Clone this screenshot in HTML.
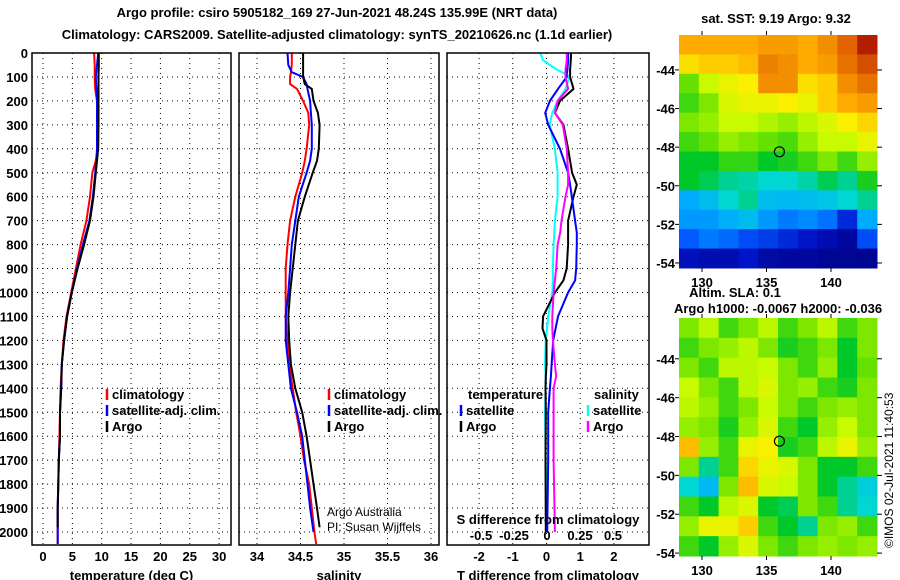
<!DOCTYPE html>
<html><head><meta charset="utf-8"><style>
html,body{margin:0;padding:0;background:#fff}
svg{display:block;font-family:"Liberation Sans",sans-serif}
.b{font-weight:bold;font-size:13px}
</style></head><body>
<svg id="s" width="900" height="580" viewBox="0 0 900 580" xmlns="http://www.w3.org/2000/svg">
<rect width="900" height="580" fill="#fff"/>
<text x="337" y="17" text-anchor="middle" class="b" font-size="14">Argo profile: csiro 5905182_169 27-Jun-2021 48.24S 135.99E (NRT data)</text>
<text x="337" y="39" text-anchor="middle" class="b" font-size="14">Climatology: CARS2009. Satellite-adjusted climatology: synTS_20210626.nc (1.1d earlier)</text>
<g id="g"></g>
</svg>
<script>
// ---- data ----
const depthTicks=[0,100,200,300,400,500,600,700,800,900,1000,1100,1200,1300,1400,1500,1600,1700,1800,1900,2000];
const tempTicks=[0,5,10,15,20,25,30];
const salTicks=[34,34.5,35,35.5,36];
const salTickLabels=["34","34.5","35","35.5","36"];
const tdTicks=[-2,-1,0,1,2];
const sdTicks=[-0.5,-0.25,0,0.25,0.5];
const sdTickLabels=["-0.5","-0.25","0","0.25","0.5"];
const tDepth=[0,50,100,150,200,300,400,450,500,600,700,800,900,1000,1100,1200,1300,1400,1500,1600,1700,1800,1900,2000,2050];
const tArgoDepth=[0,50,100,150,200,300,400,450,500,600,700,800,900,1000,1100,1200,1300,1400,1500,1600,1700,1800,1900,1980];
const tArgo=[9.5,9.5,9.45,9.45,9.45,9.45,9.4,9.2,9.0,8.6,8.0,7.0,5.9,4.9,4.1,3.6,3.2,3.1,2.9,2.9,2.7,2.6,2.5,2.5];
const tClim=[8.7,8.8,8.8,8.9,9.2,9.3,9.3,9.0,8.4,8.0,7.4,6.4,5.6,4.8,4.0,3.5,3.2,3.0,2.9,2.8,2.7,2.6,2.5,2.5,2.5];
const tSat=[9.4,9.2,9.0,9.1,9.2,9.2,9.2,9.1,8.9,8.5,7.9,6.8,5.8,4.9,4.1,3.6,3.2,3.1,2.9,2.9,2.7,2.6,2.5,2.5,2.5];
const sDepth=[0,50,80,100,130,150,200,250,300,400,450,500,600,700,800,900,1000,1100,1200,1300,1400,1500,1600,1700,1800,1900,2000,2050];
const sArgoDepth=[0,50,80,100,130,150,200,250,300,400,450,500,600,700,800,900,1000,1100,1200,1300,1400,1500,1600,1700,1800,1900,1980];
const sArgo=[34.53,34.53,34.53,34.53,34.55,34.63,34.65,34.70,34.72,34.71,34.69,34.64,34.55,34.47,34.44,34.41,34.38,34.36,34.37,34.39,34.44,34.52,34.57,34.61,34.65,34.69,34.72];
const sClim=[34.40,34.40,34.39,34.38,34.38,34.46,34.53,34.59,34.60,34.57,34.55,34.52,34.44,34.38,34.35,34.33,34.33,34.33,34.35,34.37,34.41,34.45,34.50,34.54,34.60,34.63,34.66,34.68];
const sSatDepth=[0,50,80,100,130,150,200,250,300,400,450,500,600,700,800,900,1000,1100,1200,1300,1400,1500,1600,1700,1800,1900,2000];
const sSat=[34.35,34.36,34.40,34.53,34.57,34.58,34.61,34.62,34.63,34.63,34.61,34.57,34.48,34.44,34.40,34.38,34.36,34.33,34.33,34.36,34.39,34.46,34.52,34.55,34.58,34.61,34.65];
const dDepth=[0,30,70,90,100,150,200,250,300,400,500,550,600,700,750,800,900,950,1000,1100,1150,1200,1300,1350,1400,1500,1700,2000];
const dTArgo=[0.73,0.72,0.70,0.70,0.70,0.8,0.4,0.25,0.5,0.64,0.76,0.9,0.8,0.64,0.64,0.64,0.6,0.5,0.25,-0.1,-0.12,0,0,-0.02,-0.03,-0.02,-0.03,-0.02];
const dTSat=[0.64,0.64,0.62,0.6,0.6,0.34,0.1,-0.04,0.05,0.4,0.64,0.7,0.75,0.85,0.9,0.9,0.88,0.85,0.64,0.34,0.27,0.2,0.15,0.13,0.1,0.05,0.05,0.02];
const dSSat=[-0.05,-0.03,0.076,0.15,0.17,0.14,0.08,0.04,0.02,0.06,0.08,0.08,0.08,0.06,0.055,0.05,0.045,0.045,0.04,0.01,0.0,-0.01,-0.015,-0.01,-0.01,-0.015,-0.01,0.0];
const dSArgo=[0.15,0.15,0.14,0.14,0.14,0.16,0.08,0.06,0.12,0.15,0.16,0.16,0.14,0.11,0.1,0.08,0.07,0.06,0.05,0.04,0.04,0.045,0.06,0.07,0.05,0.05,0.05,0.06];
const latTicks=[-44,-46,-48,-50,-52,-54];
const lonTicks=[130,135,140];
const sstGrid=[
[0.8,0.8,0.8,0.8,0.82,0.82,0.8,0.84,0.9,0.97],
[0.74,0.76,0.76,0.78,0.86,0.84,0.8,0.82,0.88,0.92],
[0.58,0.66,0.7,0.72,0.84,0.84,0.74,0.76,0.84,0.88],
[0.55,0.6,0.68,0.7,0.7,0.72,0.7,0.76,0.8,0.82],
[0.6,0.62,0.66,0.66,0.64,0.62,0.65,0.68,0.72,0.75],
[0.55,0.58,0.62,0.6,0.58,0.56,0.62,0.66,0.66,0.7],
[0.5,0.5,0.54,0.54,0.5,0.52,0.55,0.6,0.55,0.62],
[0.5,0.48,0.45,0.44,0.42,0.42,0.44,0.48,0.45,0.52],
[0.32,0.36,0.42,0.45,0.36,0.35,0.36,0.38,0.42,0.45],
[0.3,0.3,0.33,0.36,0.3,0.26,0.28,0.25,0.15,0.32],
[0.22,0.26,0.24,0.2,0.18,0.15,0.12,0.08,0.05,0.2],
[0.1,0.08,0.08,0.12,0.06,0.05,0.05,0.03,0.03,0.03]];
const slaGrid=[
[0.6,0.65,0.55,0.6,0.65,0.55,0.6,0.65,0.55,0.6],
[0.55,0.6,0.62,0.65,0.6,0.52,0.55,0.6,0.5,0.6],
[0.6,0.55,0.65,0.65,0.66,0.6,0.55,0.62,0.5,0.58],
[0.66,0.6,0.55,0.65,0.68,0.6,0.62,0.55,0.52,0.6],
[0.65,0.62,0.55,0.6,0.66,0.6,0.55,0.6,0.62,0.6],
[0.62,0.6,0.52,0.62,0.68,0.55,0.5,0.62,0.66,0.6],
[0.78,0.62,0.55,0.7,0.72,0.52,0.55,0.65,0.7,0.62],
[0.6,0.45,0.55,0.75,0.7,0.68,0.6,0.5,0.5,0.55],
[0.42,0.35,0.6,0.78,0.68,0.66,0.6,0.5,0.45,0.4],
[0.55,0.5,0.65,0.68,0.5,0.48,0.6,0.55,0.45,0.42],
[0.62,0.7,0.7,0.76,0.55,0.5,0.45,0.6,0.62,0.55],
[0.55,0.5,0.62,0.68,0.6,0.55,0.6,0.62,0.6,0.62]];
const argoLon=136.0, argoLat=-48.24;

// ---- drawing ----
const NS='http://www.w3.org/2000/svg';
const G=document.getElementById('g');
function mk(tag,attrs,parent){const e=document.createElementNS(NS,tag);for(const k in attrs)e.setAttribute(k,attrs[k]);(parent||G).appendChild(e);return e;}
function txt(x,y,s,opts,parent){const e=mk('text',Object.assign({x:x,y:y},opts||{}),parent);e.textContent=s;return e;}
const yD=d=>53+d*0.2395;
const PT=53,PB=545;
function panel(name,L,R,xf,ticks,labels,series,xtitle){
  const g=mk('g',{});
  
  
  depthTicks.forEach(d=>{const l=mk('line',{x1:L,x2:R,y1:yD(d),y2:yD(d),stroke:'#000','stroke-dasharray':'1,4','stroke-width':1},g);
    
    });
  ticks.forEach((t,i)=>{const x=xf(t);const l=mk('line',{x1:x,x2:x,y1:PT,y2:PB,stroke:'#000','stroke-dasharray':'1,4','stroke-width':1},g);
    
    
    if(labels){const t2=txt(x,561,labels[i],{'text-anchor':'middle','class':'b'},g);
    
    }});
  series.forEach(s=>{const f=s.xf||xf;const pts=s.v.map((v,i)=>f(v).toFixed(1)+','+yD(s.d[i]).toFixed(1)).join(' ');
    const p=mk('polyline',{points:pts,fill:'none',stroke:s.c,'stroke-width':2},g);
    
    });
  const r=mk('rect',{x:L,y:PT,width:R-L,height:PB-PT,fill:'none',stroke:'#000','stroke-width':1.5},g);
  
  
  if(xtitle){const t=txt((L+R)/2,580,xtitle,{'text-anchor':'middle','class':'b'},g);
    
    }
  return g;
}
const xT=t=>43+t*5.87, xS=s=>257+(s-34)*87, xTD=d=>546.5+d*33.7, xSD=d=>547+d*132;
panel('temperature-panel',32,231,xT,tempTicks,tempTicks.map(String),[
 {n:'temp-climatology-line',c:'#f00',d:tDepth,v:tClim},{n:'temp-satellite-line',c:'#00f',d:tDepth,v:tSat},{n:'temp-argo-line',c:'#000',d:tArgoDepth,v:tArgo}],'temperature (deg C)');
panel('salinity-panel',239,439,xS,salTicks,salTickLabels,[
 {n:'sal-climatology-line',c:'#f00',d:sDepth,v:sClim},{n:'sal-satellite-line',c:'#00f',d:sSatDepth,v:sSat},{n:'sal-argo-line',c:'#000',d:sArgoDepth,v:sArgo}],'salinity');
panel('difference-panel',447,649,xTD,tdTicks,tdTicks.map(String),[
 {n:'sdiff-satellite-line',c:'#0ff',d:dDepth,v:dSSat,xf:xSD},{n:'tdiff-argo-line',c:'#000',d:dDepth,v:dTArgo},{n:'tdiff-satellite-line',c:'#00f',d:dDepth,v:dTSat},{n:'sdiff-argo-line',c:'#f0f',d:dDepth,v:dSArgo,xf:xSD}],'T difference from climatology');
sdTicks.forEach((t,i)=>{const e=txt(xSD(t),540,sdTickLabels[i],{'text-anchor':'middle','class':'b'});
  
  });
{const e=txt(548,524,'S difference from climatology',{'text-anchor':'middle','class':'b'});
 
 }
depthTicks.forEach(d=>{const e=txt(28,yD(d)+5,String(d),{'text-anchor':'end','class':'b'});
  
  });
// legends
function leg(x,y,c,label){const g=mk('g',{});
  
  
  mk('line',{x1:x,x2:x,y1:y-10,y2:y+1,stroke:c,'stroke-width':2.5},g);txt(x+5,y,label,{'class':'b'},g);}
[[107,'#f00','climatology',399],[107,'#00f','satellite-adj. clim.',415],[107,'#000','Argo',431]].forEach(a=>leg(a[0],a[3],a[1],a[2]));
[[329,'#f00','climatology',399],[329,'#00f','satellite-adj. clim.',415],[329,'#000','Argo',431]].forEach(a=>leg(a[0],a[3],a[1],a[2]));
{const e=txt(468,399,'temperature',{'class':'b'});}
{const e=txt(594,399,'salinity',{'class':'b'});}
leg(461,415,'#00f','satellite');leg(461,431,'#000','Argo');
leg(588,415,'#0ff','satellite');leg(588,431,'#f0f','Argo');
{const e=txt(327,516,'Argo Australia',{'font-size':'12'});}
{const e=txt(327,531,'PI: Susan Wijffels',{'font-size':'12'});}
// maps
const cmapStops=[[0,0,0,130],[0.12,0,20,200],[0.22,0,90,255],[0.32,0,170,255],[0.42,0,215,210],[0.5,0,200,40],[0.58,100,225,0],[0.66,200,250,0],[0.72,250,240,0],[0.8,255,170,0],[0.9,225,100,0],[1,160,0,0]];
function cmap(v){v=Math.max(0,Math.min(1,v));for(let i=1;i<cmapStops.length;i++){const a=cmapStops[i-1],b=cmapStops[i];if(v<=b[0]){const f=(v-a[0])/(b[0]-a[0]);
  return 'rgb('+[1,2,3].map(k=>Math.round(a[k]+(b[k]-a[k])*f)).join(',')+')';}}return 'rgb(160,0,0)';}
function map(name,grid,T,B,latTop,latBot){
  const L=679,R=877;const g=mk('g',{});
  
  
  const rows=grid.length,cols=grid[0].length,cw=(R-L)/cols,ch=(B-T)/rows;
  grid.forEach((row,i)=>row.forEach((v,j)=>{const c=mk('rect',{x:L+j*cw,y:T+i*ch,width:cw+0.5,height:ch+0.5,fill:cmap(v)},g);
    
    }));
  const yl=lat=>T+(lat-latTop)/(latBot-latTop)*(B-T);
  const xl=lon=>702+(lon-130)*12.9;
  latTicks.forEach(l=>{const y=yl(l);mk('line',{x1:R,x2:R+5,y1:y,y2:y,stroke:'#000'},g);mk('line',{x1:L-4,x2:L,y1:y,y2:y,stroke:'#000'},g);
    const e=txt(675,y+5,String(l),{'text-anchor':'end','class':'b'},g);
    
    });
  lonTicks.forEach(l=>{const x=xl(l);mk('line',{x1:x,x2:x,y1:T-4,y2:T,stroke:'#000'},g);mk('line',{x1:x,x2:x,y1:B,y2:B+4,stroke:'#000'},g);
    const e=txt(x,B+19,String(l),{'text-anchor':'middle','class':'b'},g);
    
    });
  const m=mk('circle',{cx:xl(argoLon),cy:yl(argoLat),r:5,fill:'none',stroke:'#000','stroke-width':1.2},g);
  
  
}
map('sst-map',sstGrid,35,268,-42.19,-54.26);
map('sla-map',slaGrid,318,556,-41.9,-54.15);
{const e=txt(776,23,'sat. SST: 9.19 Argo: 9.32',{'text-anchor':'middle','class':'b'});}
{const e=txt(735,297,'Altim. SLA: 0.1',{'text-anchor':'middle','class':'b'});}
{const e=txt(778,313,'Argo h1000: -0.0067 h2000: -0.036',{'text-anchor':'middle','class':'b'});}
{const e=txt(0,0,'©IMOS 02-Jul-2021 11:40:53',{'font-size':'12','transform':'translate(893,548) rotate(-90)'});}
</script>
</body></html>
